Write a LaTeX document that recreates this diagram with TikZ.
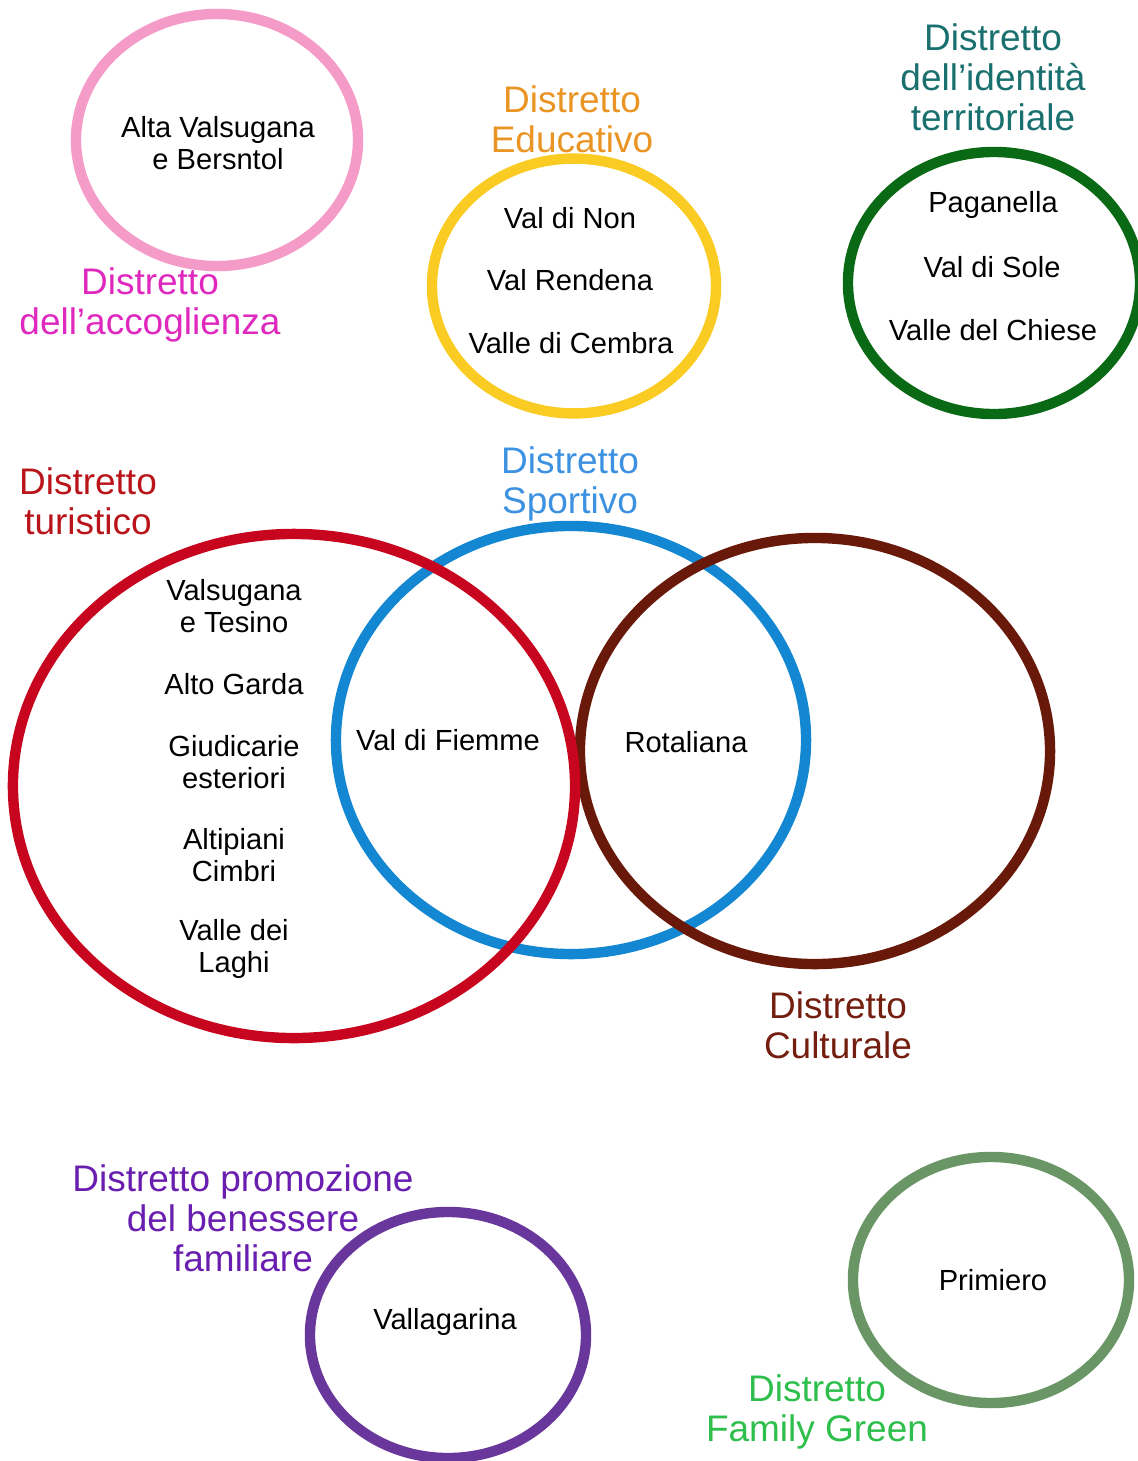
\documentclass[tikz,border=0pt]{standalone}
\usepackage{fontspec}
\setmainfont{Liberation Sans}
\usetikzlibrary{shapes.geometric}

\definecolor{accring}{RGB}{245,155,200}
\definecolor{acctext}{RGB}{222,40,190}
\definecolor{eduring}{RGB}{250,204,35}
\definecolor{edutext}{RGB}{234,148,36}
\definecolor{idering}{RGB}{10,105,20}
\definecolor{idetext}{RGB}{25,112,110}
\definecolor{turring}{RGB}{200,5,30}
\definecolor{turtext}{RGB}{185,20,25}
\definecolor{sporing}{RGB}{20,135,210}
\definecolor{spotext}{RGB}{60,145,225}
\definecolor{culring}{RGB}{105,25,10}
\definecolor{cultext}{RGB}{115,30,15}
\definecolor{benring}{RGB}{105,55,155}
\definecolor{bentext}{RGB}{105,30,175}
\definecolor{famring}{RGB}{105,150,100}
\definecolor{famtext}{RGB}{45,190,75}

\begin{document}
\begin{tikzpicture}[x=0.025cm,y=-0.025cm,
  ring/.style={ellipse,draw,line width=7.4pt,inner sep=0pt},
  place/.style={font=\fontsize{20.7}{23}\selectfont,align=center,inner sep=0pt},
  caption/.style={font=\fontsize{26.3}{28.5}\selectfont,align=center,inner sep=0pt}]

\useasboundingbox (0,0) rectangle (1138,1461);

%% ---------------- top row: three single districts ----------------
\node[ring,accring,minimum width=7.05cm,minimum height=6.3cm] (acc) at (217,140) {};
\node[place] (accA) at (218,143) {Alta Valsugana\\e Bersntol};
\node[caption,acctext] (accT) at (150,305) {Distretto\\dell’accoglienza};

\node[ring,eduring,minimum width=7.1cm,minimum height=6.37cm] (edu) at (574,286) {};
\node[caption,edutext] (eduT) at (572,119) {Distretto\\Educativo};
\node[place] (eduA) at (570,218) {Val di Non};
\node[place] (eduB) at (570,280) {Val Rendena};
\node[place] (eduC) at (571,343) {Valle di Cembra};

\node[ring,idering,minimum width=7.3cm,minimum height=6.55cm] (ide) at (994,283) {};
\node[caption,idetext] (ideT) at (993,77) {Distretto\\dell’identità\\territoriale};
\node[place] (ideA) at (993,205) {Paganella};
\node[place] (ideB) at (992,267) {Val di Sole};
\node[place] (ideC) at (993,330) {Valle del Chiese};

%% ---------------- middle: the three overlapping districts --------
\node[ring,sporing,minimum width=11.75cm,minimum height=10.7cm] (spo) at (571,740) {};
\node[ring,culring,minimum width=11.75cm,minimum height=10.65cm] (cul) at (815,751) {};
\node[ring,turring,minimum width=14.05cm,minimum height=12.6cm] (tur) at (294,786) {};

\node[caption,turtext] (turT) at (88,501) {Distretto\\turistico};
\node[caption,spotext] (spoT) at (570,484) {Distretto\\Sportivo};
\node[caption,cultext] (culT) at (838,1025) {Distretto\\Culturale};

\node[place] (turA) at (234,606) {Valsugana\\e Tesino};
\node[place] (turB) at (234,684) {Alto Garda};
\node[place] (turC) at (234,762) {Giudicarie\\esteriori};
\node[place] (turD) at (234,855) {Altipiani\\Cimbri};
\node[place] (turE) at (234,949) {Valle dei\\Laghi};
\node[place] (both) at (448,740) {Val di Fiemme};
\node[place] (rot) at (686,742) {Rotaliana};

%% ---------------- bottom row ----------------
\node[ring,benring,minimum width=6.9cm,minimum height=6.15cm] (ben) at (448,1335) {};
\node[caption,bentext] (benT) at (243,1218) {Distretto promozione\\del benessere\\familiare};
\node[place] (benA) at (445,1322) {Vallagarina};

\node[ring,famring,minimum width=6.9cm,minimum height=6.15cm] (fam) at (991,1280) {};
\node[place] (famA) at (993,1280) {Primiero};
\node[caption,famtext] (famT) at (817,1412) {Distretto\\Family Green};

\end{tikzpicture}
\end{document}
